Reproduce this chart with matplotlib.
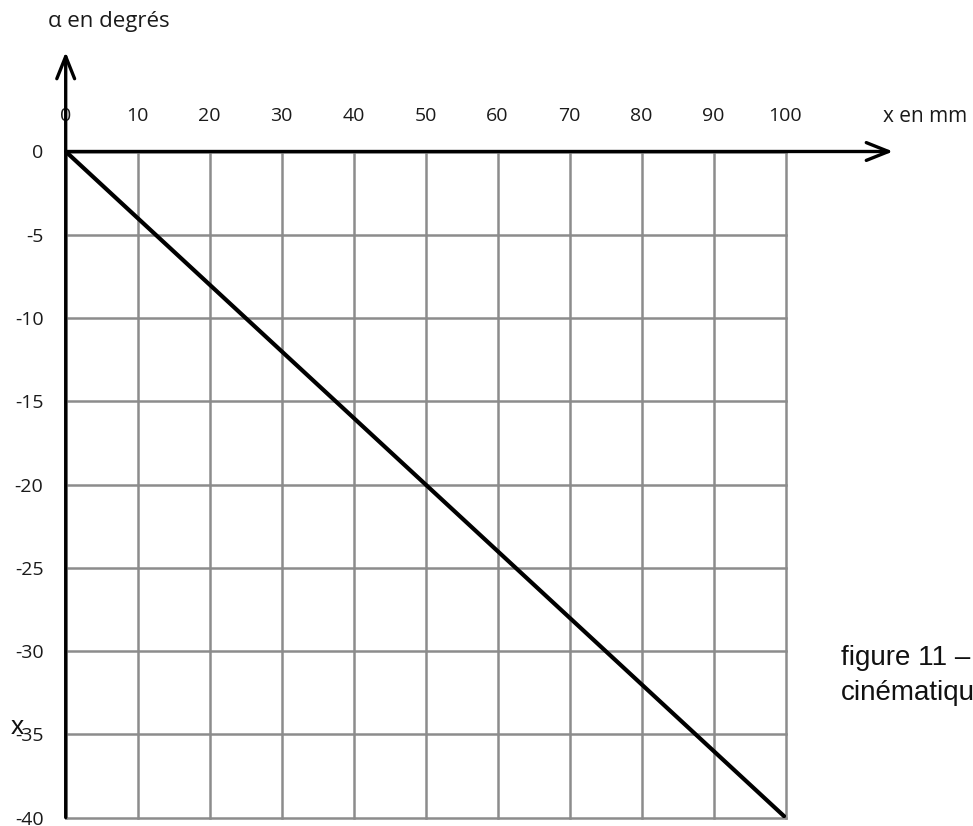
import matplotlib
matplotlib.use("Agg")
import matplotlib.pyplot as plt

# data
x_mm = [0, 100]
alpha_deg = [0, -40]
x_ticks = [0, 10, 20, 30, 40, 50, 60, 70, 80, 90, 100]
x_tick_labels = ["0", "10", "20", "30", "40", "50", "60", "70", "80", "90", "100"]
y_ticks = [0, -5, -10, -15, -20, -25, -30, -35, -40]
y_tick_labels = ["0", "-5", "-10", "-15", "-20", "-25", "-30", "-35", "-40"]

W, H = 973, 826
fig = plt.figure(figsize=(W / 100, H / 100), dpi=100)
left, right, top, bottom = 65.7, 785.5, 151.5, 817.5
ax = fig.add_axes([left / W, 1 - bottom / H, (right - left) / W, (bottom - top) / H])
ax.set_xlim(0, 100)
ax.set_ylim(-40, 0)

for s in ax.spines.values():
    s.set_visible(False)

ax.set_xticks(x_ticks)
ax.set_xticklabels(x_tick_labels)
ax.set_yticks(y_ticks)
ax.set_yticklabels(y_tick_labels)
ax.xaxis.tick_top()
ax.tick_params(axis="both", length=0, labelsize=14, colors="#1a1a1a")
ax.tick_params(axis="x", pad=19)
ax.tick_params(axis="y", pad=16)
for lab in ax.get_xticklabels() + ax.get_yticklabels():
    lab.set_fontfamily("Open Sans")

ax.grid(True, color="#8c8c8c", linewidth=1.8)
for gl in ax.get_xgridlines() + ax.get_ygridlines():
    gl.set_clip_on(False)
ax.set_axisbelow(True)

# data line
ax.plot(x_mm, alpha_deg, color="black", linewidth=3.0, solid_capstyle="butt", zorder=3)

# axes with open arrows
arrow_kw = dict(arrowstyle="->,head_length=0.8,head_width=0.32", color="black",
                linewidth=2.4, mutation_scale=20, shrinkA=0, shrinkB=0)
ax.annotate("", xy=((893 - left) / (right - left), 1), xytext=(0, 1),
            xycoords="axes fraction", textcoords="axes fraction",
            arrowprops=arrow_kw, annotation_clip=False, zorder=4)
ax.annotate("", xy=(0, (bottom - 52) / (bottom - top)), xytext=(0, 0),
            xycoords="axes fraction", textcoords="axes fraction",
            arrowprops=arrow_kw, annotation_clip=False, zorder=4)

# texts
fig.text(48 / W, 1 - 22 / H, "α en degrés", fontsize=16, family="Open Sans",
         ha="left", va="center", color="#1a1a1a")
fig.text(883 / W, 1 - 117 / H, "x en mm", fontsize=15, family="Open Sans",
         ha="left", va="center", color="#1a1a1a")
fig.text(841 / W, 1 - 665 / H, "figure 11 – loi", fontsize=20,
         family="Liberation Sans", ha="left", va="baseline", color="#111111")
fig.text(841 / W, 1 - 700 / H, "cinématique", fontsize=20,
         family="Liberation Sans", ha="left", va="baseline", color="#111111")
fig.text(17 / W, 1 - 727 / H, "x", fontsize=19, family="Liberation Sans",
         ha="center", va="center", color="#111111")

fig.savefig("out.png", dpi=100)
